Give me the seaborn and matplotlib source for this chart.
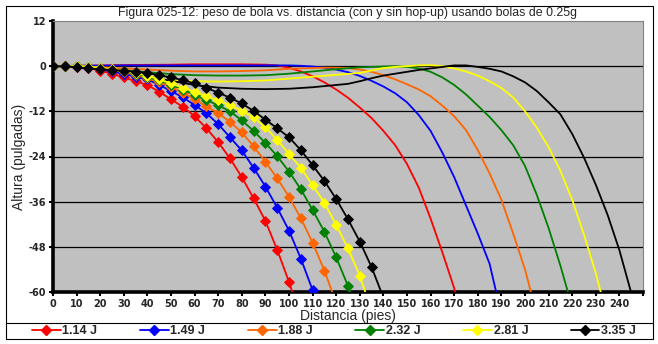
import numpy as np
import pandas as pd
import matplotlib
matplotlib.use("Agg")
import matplotlib.pyplot as plt
import seaborn as sns
from matplotlib.lines import Line2D
from matplotlib.patches import Rectangle

# ---------------- data ----------------
energies = ["1.14 J", "1.49 J", "1.88 J", "2.32 J", "2.81 J", "3.35 J"]
colors = ["#FF0000", "#0000FF", "#FF6600", "#008000", "#FFFF00", "#000000"]

# without hop-up (markers every 5 ft)
nohop_114 = [0, 0, -0.1, -0.5, -1.2, -2.0, -3.0, -4.0, -5.0, -6.8, -8.8, -10.8, -13.3,
             -16.5, -20.2, -24.5, -29.5, -35.1, -41.1, -48.8, -57.3, -67.0]
nohop_149 = [0, 0, 0, -0.3, -0.8, -1.4, -2.1, -2.8, -3.5, -5.0, -6.6, -8.3, -10.3, -12.5,
             -15.4, -18.9, -22.4, -27.0, -32.0, -37.6, -43.7, -51.1, -59.5, -69.0]
nohop_188 = [0, 0, 0, -0.2, -0.6, -1.0, -1.6, -2.3, -3.2, -4.3, -5.6, -7.0, -8.8, -10.7,
             -12.5, -14.8, -17.6, -21.3, -25.4, -29.8, -34.7, -40.4, -46.9, -54.3, -63.0]
nohop_232 = [0, 0, 0, -0.2, -0.5, -0.9, -1.4, -2.0, -2.8, -3.8, -4.9, -6.2, -7.6, -9.0,
             -10.4, -12.0, -14.4, -17.2, -20.4, -23.9, -28.0, -32.7, -38.2, -44.0, -50.8,
             -58.4, -67.0]
nohop_281 = [0, 0, 0, -0.1, -0.4, -0.8, -1.2, -1.8, -2.5, -3.5, -4.6, -5.7, -6.9, -8.0,
             -9.1, -10.4, -11.8, -13.6, -16.2, -19.6, -23.3, -27.0, -31.6, -36.3, -42.2,
             -48.4, -55.7, -65.0]
nohop_335 = [0, 0, -0.3, -0.6, -0.8, -1.0, -1.2, -1.5, -1.8, -2.4, -3.0, -3.7, -4.6, -5.8,
             -7.0, -8.4, -9.9, -11.9, -14.2, -16.5, -18.9, -22.3, -26.3, -30.5, -35.3,
             -40.7, -46.6, -53.4, -61.5]

# with hop-up (lines only)
hop_114_x = [0, 10, 20, 30, 40, 50, 60, 70, 80, 90, 95, 100, 105, 110, 115, 120, 125, 130,
             135, 140, 145, 150, 155, 160, 165, 170, 175]
hop_114_y = [0, 0.1, 0.2, 0.3, 0.35, 0.4, 0.5, 0.5, 0.5, 0.4, 0.2, -0.4, -1.4, -2.7, -4.3,
             -6.2, -8.4, -11.0, -13.8, -17.2, -21.0, -26.0, -32.3, -40.5, -49.5, -59.0, -70.0]
hop_149_x = [0, 10, 20, 30, 40, 50, 60, 70, 80, 90, 100, 105, 110, 115, 120, 125, 130, 135,
             140, 145, 150, 155, 160, 165, 170, 175, 180, 185, 190]
hop_149_y = [0, 0.1, 0.15, 0.2, 0.2, 0.2, 0.2, 0.2, 0.2, 0.2, 0.2, 0.1, -0.1, -0.4, -0.9,
             -1.6, -2.6, -3.9, -5.4, -7.2, -9.6, -13.0, -17.2, -23.0, -29.5, -37.0, -44.5,
             -52.5, -66.0]
hop_188_x = [0, 10, 20, 30, 40, 50, 60, 70, 80, 90, 100, 110, 115, 120, 125, 130, 135, 140,
             145, 150, 155, 160, 165, 170, 175, 180, 185, 190, 195, 200, 205]
hop_188_y = [0, -0.1, -0.3, -0.6, -0.9, -1.2, -1.4, -1.4, -1.3, -1.1, -0.7, -0.5, -0.4, -0.4,
             -0.5, -0.9, -1.5, -2.4, -3.5, -4.8, -6.2, -8.0, -10.5, -13.3, -17.0, -22.3,
             -28.5, -35.5, -44.5, -54.0, -66.0]
hop_232_x = [0, 10, 20, 30, 40, 50, 60, 70, 80, 90, 100, 110, 120, 130, 140, 145, 150, 155,
             160, 165, 170, 175, 180, 185, 190, 195, 200, 205, 210, 215, 220]
hop_232_y = [0, -0.2, -0.6, -1.1, -1.6, -2.1, -2.4, -2.5, -2.5, -2.4, -2.0, -1.4, -0.8, -0.3,
             -0.1, 0.0, -0.2, -0.6, -1.5, -3.0, -5.0, -7.5, -10.5, -13.5, -17.0, -21.0,
             -26.5, -34.2, -43.0, -53.0, -64.0]
hop_281_x = [0, 10, 20, 30, 40, 50, 60, 70, 80, 90, 100, 110, 120, 130, 140, 145, 150, 155,
             160, 165, 170, 175, 180, 185, 190, 195, 200, 205, 210, 215, 220, 225, 230, 235]
hop_281_y = [0, -0.3, -1.0, -2.0, -3.0, -3.7, -4.0, -4.1, -4.0, -3.8, -3.3, -2.8, -2.3, -1.8,
             -0.5, -0.2, 0.0, 0.2, 0.25, 0.0, -0.6, -1.4, -2.5, -4.0, -5.8, -8.3, -12.0,
             -16.3, -21.5, -27.8, -35.5, -44.8, -55.0, -67.0]
hop_335_x = [0, 10, 20, 30, 40, 50, 60, 70, 80, 90, 100, 110, 120, 125, 130, 135, 140, 145,
             150, 155, 160, 165, 170, 175, 180, 185, 190, 195, 200, 205, 210, 215, 220, 225,
             230, 235, 240, 245, 250]
hop_335_y = [0, -0.3, -0.9, -1.7, -2.7, -3.9, -5.0, -5.7, -6.0, -6.1, -6.0, -5.6, -5.0, -4.7,
             -4.0, -3.2, -2.5, -2.0, -1.5, -1.0, -0.6, -0.2, 0.2, 0.2, -0.2, -0.7, -1.4, -2.7,
             -4.3, -6.6, -9.6, -12.8, -18.0, -24.3, -31.5, -39.5, -48.9, -60.2, -72.0]

x_ticks = list(range(0, 251, 10))
x_tick_labels = [str(v) for v in range(0, 241, 10)] + [""]
y_ticks = [12, 0, -12, -24, -36, -48, -60]

nohop = [nohop_114, nohop_149, nohop_188, nohop_232, nohop_281, nohop_335]
hop = [(hop_114_x, hop_114_y), (hop_149_x, hop_149_y), (hop_188_x, hop_188_y),
       (hop_232_x, hop_232_y), (hop_281_x, hop_281_y), (hop_335_x, hop_335_y)]

# ---------------- figure ----------------
sns.set_theme(style="white")
plt.rcParams["font.family"] = ["Liberation Sans", "DejaVu Sans"]

W, H = 658, 344
fig = plt.figure(figsize=(W / 100, H / 100), dpi=100)
L, R, T, B = 53, 643, 21, 292
ax = fig.add_axes([L / W, 1 - B / H, (R - L) / W, (B - T) / H])
ax.set_facecolor("#C0C0C0")

for yv in y_ticks[1:-1]:
    ax.axhline(yv, color="black", lw=0.9, zorder=1)

for (hx, hy), c in zip(hop, colors):
    sns.lineplot(x=hx, y=hy, color=c, lw=1.3, ax=ax, sort=False, estimator=None,
                 legend=False, zorder=3)
for vals, c in zip(nohop, colors):
    d = list(range(0, 5 * len(vals), 5))
    sns.lineplot(x=d, y=vals, color=c, lw=1.3, marker="D", markersize=5.0,
                 markeredgecolor=c, markeredgewidth=0.6, ax=ax, sort=False,
                 estimator=None, legend=False, zorder=4)

ax.set_xlim(0, 250)
ax.set_ylim(-60, 12)
ax.set_xticks(x_ticks)
ax.set_xticklabels(x_tick_labels, family=["DejaVu Sans"], fontweight="bold", fontsize=7)
ax.set_yticks(y_ticks)
ax.set_yticklabels([str(v) for v in y_ticks], family=["DejaVu Sans"], fontweight="bold",
                   fontsize=7)
ax.tick_params(axis="both", direction="out", length=3, width=1.5, color="black",
               pad=2, bottom=True, left=True)

for s in ["left", "bottom"]:
    ax.spines[s].set_color("black")
    ax.spines[s].set_linewidth(2.6)
for s in ["top", "right"]:
    ax.spines[s].set_color("#808080")
    ax.spines[s].set_linewidth(0.8)

ax.set_xlabel("Distancia (pies)", fontsize=10, labelpad=0)
ax.set_ylabel("Altura (pulgadas)", fontsize=10, labelpad=2)

fig.text((L + R) / 2 / W, 1 - 13 / H,
         "Figura 025-12: peso de bola vs. distancia (con y sin hop-up) usando bolas de 0.25g",
         ha="center", va="center", fontsize=8.9)

# outer chart border and legend separator
fig.patches.append(Rectangle((6 / W, 1 - 339 / H), 647 / W, 333.5 / H,
                             transform=fig.transFigure, fill=False, edgecolor="black",
                             lw=0.8, zorder=0))
fig.add_artist(Line2D([6 / W, 653 / W], [1 - 322.7 / H, 1 - 322.7 / H],
                      transform=fig.transFigure, color="black", lw=0.8))

handles = [Line2D([0], [0], color=c, lw=1.3, marker="D", markersize=5.0,
                  markeredgecolor=c) for c in colors]
leg = fig.legend(handles, energies, ncol=6, loc="lower left",
                 bbox_to_anchor=(30 / W, 1 - 339 / H, 608 / W, 16.5 / H), mode="expand",
                 borderaxespad=0, frameon=False, handlelength=2.3,
                 handletextpad=0.15, borderpad=0.15,
                 prop={"size": 9, "weight": "bold"})

fig.savefig("out.png", dpi=100)
